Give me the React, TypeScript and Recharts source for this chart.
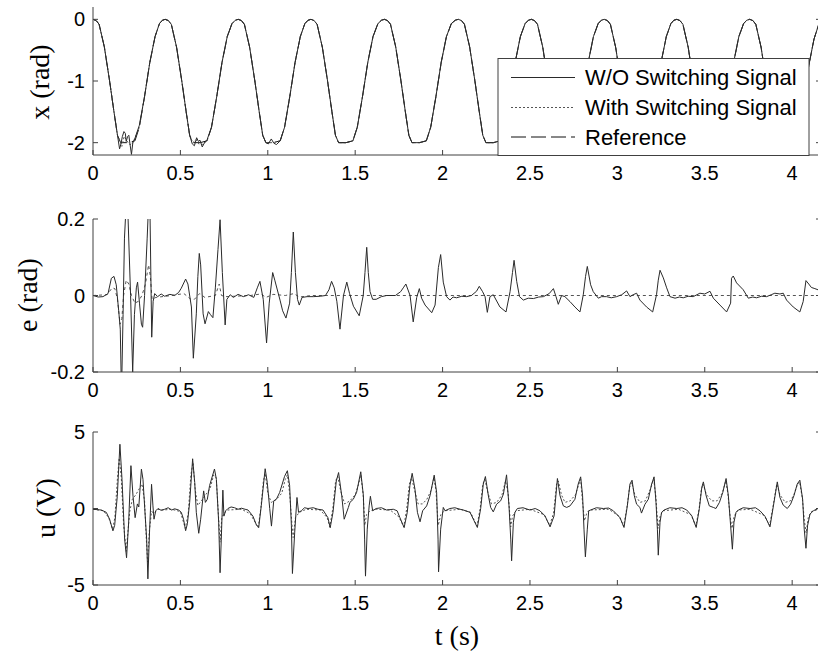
import React from 'react'
import { LineChart, Line, XAxis, YAxis } from 'recharts'

type Pt = [number, number]

const T_MAX = 4.165
const tTicks = [0, 0.5, 1, 1.5, 2, 2.5, 3, 3.5, 4]
const xTicks = [-2, -1, 0]
const eTicks = [-0.2, 0, 0.2]
const uTicks = [-5, 0, 5]
const legendLabels = ['W/O Switching Signal', 'With Switching Signal', 'Reference']

// x(t): reference trajectory (rad)
const xRef: Pt[] = [
  [0, 0], [0.018, -0.02], [0.035, -0.08], [0.065, -0.45], [0.095, -1], [0.12, -1.5], [0.14, -1.88], [0.158, -2], [0.2, -2], [0.24, -1.97], [0.265, -1.75], [0.295, -1.25], [0.325, -0.7], [0.355, -0.28], [0.38, -0.07], [0.397, -0.015],
  [0.413, 0], [0.431, -0.02], [0.448, -0.08], [0.478, -0.45], [0.508, -1], [0.533, -1.5], [0.553, -1.88], [0.571, -2], [0.613, -2], [0.653, -1.97], [0.678, -1.75], [0.708, -1.25], [0.738, -0.7], [0.768, -0.28], [0.795, -0.07], [0.814, -0.015],
  [0.831, 0], [0.849, -0.02], [0.866, -0.08], [0.896, -0.45], [0.926, -1], [0.951, -1.5], [0.971, -1.88], [0.989, -2], [1.031, -2], [1.071, -1.97], [1.096, -1.75], [1.126, -1.25], [1.156, -0.7], [1.186, -0.28], [1.212, -0.07], [1.23, -0.015],
  [1.247, 0], [1.265, -0.02], [1.282, -0.08], [1.312, -0.45], [1.342, -1], [1.367, -1.5], [1.387, -1.88], [1.405, -2], [1.447, -2], [1.487, -1.97], [1.512, -1.75], [1.542, -1.25], [1.572, -0.7], [1.602, -0.28], [1.63, -0.07], [1.65, -0.015],
  [1.667, 0], [1.685, -0.02], [1.702, -0.08], [1.732, -0.45], [1.762, -1], [1.787, -1.5], [1.807, -1.88], [1.825, -2], [1.867, -2], [1.907, -1.97], [1.932, -1.75], [1.962, -1.25], [1.992, -0.7], [2.022, -0.28], [2.05, -0.07], [2.072, -0.015],
  [2.09, 0], [2.108, -0.02], [2.125, -0.08], [2.155, -0.45], [2.185, -1], [2.21, -1.5], [2.23, -1.88], [2.248, -2], [2.29, -2], [2.33, -1.97], [2.355, -1.75], [2.385, -1.25], [2.415, -0.7], [2.445, -0.28], [2.472, -0.07], [2.491, -0.015],
  [2.508, 0], [2.526, -0.02], [2.543, -0.08], [2.573, -0.45], [2.603, -1], [2.628, -1.5], [2.648, -1.88], [2.666, -2], [2.708, -2], [2.748, -1.97], [2.773, -1.75], [2.803, -1.25], [2.833, -0.7], [2.863, -0.28], [2.89, -0.07], [2.908, -0.015],
  [2.925, 0], [2.943, -0.02], [2.96, -0.08], [2.99, -0.45], [3.02, -1], [3.045, -1.5], [3.065, -1.88], [3.083, -2], [3.125, -2], [3.165, -1.97], [3.19, -1.75], [3.22, -1.25], [3.25, -0.7], [3.28, -0.28], [3.306, -0.07], [3.323, -0.015],
  [3.34, 0], [3.358, -0.02], [3.375, -0.08], [3.405, -0.45], [3.435, -1], [3.46, -1.5], [3.48, -1.88], [3.498, -2], [3.54, -2], [3.58, -1.97], [3.605, -1.75], [3.635, -1.25], [3.665, -0.7], [3.695, -0.28], [3.722, -0.07], [3.74, -0.015],
  [3.757, 0], [3.775, -0.02], [3.792, -0.08], [3.822, -0.45], [3.852, -1], [3.877, -1.5], [3.897, -1.88], [3.915, -2], [3.957, -2], [3.997, -1.97], [4.03, -1.8], [4.065, -1.3], [4.095, -0.75], [4.125, -0.32], [4.15, -0.1], [4.165, -0.04],
]

// x(t) without switching signal, first three periods (trough wiggles)
const xWithoutStart: Pt[] = [
  [0, 0], [0.018, -0.02], [0.035, -0.08], [0.065, -0.45], [0.095, -1], [0.12, -1.5], [0.14, -1.88], [0.152, -2.1], [0.16, -2.02], [0.168, -1.9], [0.177, -1.82], [0.185, -1.85], [0.19, -1.98], [0.198, -1.9], [0.205, -1.88], [0.213, -2.05], [0.22, -2.19], [0.228, -2], [0.24, -1.93], [0.265, -1.72], [0.295, -1.25], [0.325, -0.7], [0.355, -0.28], [0.38, -0.07], [0.397, -0.015],
  [0.413, 0], [0.431, -0.02], [0.448, -0.08], [0.478, -0.45], [0.508, -1], [0.533, -1.5], [0.553, -1.88], [0.568, -2.02], [0.58, -2.05], [0.593, -1.92], [0.603, -1.98], [0.612, -1.96], [0.625, -2.07], [0.64, -1.99], [0.653, -1.95], [0.678, -1.75], [0.708, -1.25], [0.738, -0.7], [0.768, -0.28], [0.795, -0.07], [0.814, -0.015],
  [0.831, 0], [0.849, -0.02], [0.866, -0.08], [0.896, -0.45], [0.926, -1], [0.951, -1.5], [0.971, -1.88], [0.989, -2], [1.003, -2.02], [1.02, -1.94], [1.035, -2.01], [1.05, -2.03], [1.071, -1.97],
]

// x(t) with switching signal, first two periods
const xWithStart: Pt[] = [
  [0, 0], [0.018, -0.02], [0.035, -0.08], [0.065, -0.45], [0.095, -1], [0.12, -1.5], [0.14, -1.88], [0.155, -1.97], [0.165, -2.06], [0.178, -1.9], [0.19, -1.95], [0.205, -2.02], [0.22, -2.04], [0.235, -1.96], [0.265, -1.75], [0.295, -1.25], [0.325, -0.7], [0.355, -0.28], [0.38, -0.07], [0.397, -0.015],
  [0.413, 0], [0.431, -0.02], [0.448, -0.08], [0.478, -0.45], [0.508, -1], [0.533, -1.5], [0.553, -1.88], [0.571, -2], [0.59, -1.95], [0.605, -2.02], [0.625, -2.03], [0.653, -1.97],
]

const xWithout: Pt[] = [...xWithoutStart, ...xRef.filter(p => p[0] > 1.09)]
const xWith: Pt[] = [...xWithStart, ...xRef.filter(p => p[0] > 0.67)]

// e(t) tracking error (rad)
const eWithout: Pt[] = [
  [0, 0], [0.03, -0.004], [0.057, -0.003], [0.086, 0.005], [0.105, 0.045], [0.12, 0.05], [0.133, 0.028], [0.147, -0.04], [0.156, -0.088], [0.163, -0.26], [0.172, -0.05], [0.18, 0.15], [0.19, 0.24], [0.2, 0.21], [0.215, 0], [0.227, -0.2], [0.237, -0.05], [0.248, 0.02], [0.255, 0.035], [0.266, -0.02], [0.277, -0.075], [0.284, -0.083], [0.295, 0], [0.31, 0.15], [0.318, 0.24], [0.326, 0.22], [0.336, -0.109], [0.344, -0.015], [0.353, 0.005],
  [0.37, -0.003], [0.39, 0.004], [0.41, -0.002], [0.44, 0.003], [0.467, 0], [0.49, 0.008], [0.505, 0.019], [0.53, 0.043], [0.543, 0.03], [0.563, -0.03], [0.574, -0.164], [0.591, -0.048], [0.6, 0.05], [0.608, 0.11], [0.616, 0.08], [0.63, -0.048], [0.641, -0.074], [0.66, -0.042], [0.672, -0.05], [0.686, -0.058], [0.7, 0.02], [0.715, 0.12], [0.727, 0.198], [0.74, 0.06], [0.756, -0.077], [0.766, -0.01],
  [0.785, 0.002], [0.803, -0.005], [0.83, 0.003], [0.86, -0.003], [0.89, 0.002], [0.92, -0.005], [0.94, 0.02], [0.955, 0.037], [0.974, -0.01], [0.993, -0.124], [1.008, -0.02], [1.028, 0.06], [1.04, 0.04], [1.07, -0.012], [1.085, -0.04], [1.104, -0.059], [1.125, -0.02], [1.135, 0.06], [1.146, 0.166], [1.158, 0.06], [1.17, -0.01], [1.18, -0.025], [1.196, -0.005],
  [1.225, -0.003], [1.26, -0.003], [1.3, -0.002], [1.33, 0], [1.35, 0.015], [1.365, 0.037], [1.38, 0.02], [1.395, -0.015], [1.413, -0.088], [1.433, 0], [1.452, 0.035], [1.468, 0.005], [1.49, -0.028], [1.523, -0.053], [1.546, 0], [1.556, 0.06], [1.566, 0.126], [1.575, 0.06], [1.585, 0.01], [1.6, -0.01], [1.62, -0.01], [1.65, -0.003],
  [1.68, 0], [1.73, 0], [1.76, 0.01], [1.775, 0.02], [1.79, 0.03], [1.814, 0], [1.832, -0.069], [1.852, -0.005], [1.867, 0.018], [1.88, -0.007], [1.9, -0.025], [1.938, -0.045], [1.957, -0.025], [1.976, 0.073], [1.989, 0.107], [2.004, 0.035], [2.023, -0.003], [2.042, -0.012], [2.06, -0.004], [2.08, -0.006], [2.11, -0.002], [2.137, -0.003],
  [2.165, 0], [2.194, 0.011], [2.21, 0.024], [2.229, 0.01], [2.243, -0.003], [2.256, -0.044], [2.271, -0.003], [2.29, 0.002], [2.328, -0.03], [2.363, -0.043], [2.386, 0.01], [2.4, 0.06], [2.409, 0.092], [2.424, 0.037], [2.44, -0.003], [2.462, -0.012], [2.49, -0.007], [2.52, -0.008], [2.55, -0.004], [2.577, -0.003],
  [2.61, 0.005], [2.634, 0.018], [2.649, -0.003], [2.662, -0.023], [2.681, 0], [2.7, -0.003], [2.729, -0.016], [2.757, -0.03], [2.786, -0.043], [2.805, 0.002], [2.818, 0.05], [2.828, 0.076], [2.847, 0.028], [2.862, 0.01], [2.891, -0.007], [2.91, -0.003], [2.938, -0.003], [2.965, -0.006], [2.996, -0.003],
  [3.025, 0.002], [3.053, 0.012], [3.072, -0.003], [3.09, 0.002], [3.11, 0.006], [3.129, -0.012], [3.167, -0.03], [3.202, -0.043], [3.224, 0.002], [3.234, 0.04], [3.244, 0.066], [3.263, 0.046], [3.282, 0.02], [3.301, -0.003], [3.33, -0.007], [3.355, -0.004], [3.377, -0.006], [3.405, -0.002], [3.434, -0.003],
  [3.472, 0.006], [3.5, 0.004], [3.53, 0.011], [3.549, -0.007], [3.587, -0.025], [3.625, -0.043], [3.648, -0.02], [3.653, 0.045], [3.663, 0.051], [3.682, 0.033], [3.72, 0.015], [3.749, -0.007], [3.775, -0.004], [3.796, -0.006], [3.825, -0.002], [3.854, -0.003],
  [3.88, 0.002], [3.901, 0.006], [3.93, 0.004], [3.949, 0.006], [3.968, -0.012], [4.006, -0.03], [4.044, -0.043], [4.063, -0.016], [4.079, 0.039], [4.095, 0.03], [4.11, 0.021], [4.13, 0.018], [4.165, 0.012],
]

const eWith: Pt[] = [
  [0, 0], [0.08, 0.002], [0.11, 0.02], [0.125, 0.018], [0.14, -0.01], [0.155, -0.075], [0.165, -0.06], [0.175, 0], [0.19, 0.04], [0.205, 0.03], [0.22, 0], [0.24, -0.02], [0.26, -0.015], [0.28, 0], [0.3, 0.03], [0.318, 0.08], [0.328, 0.05], [0.338, -0.01], [0.36, -0.005],
  [0.45, 0], [0.52, 0.005], [0.56, -0.01], [0.58, -0.01], [0.61, 0.005], [0.64, -0.005], [0.7, 0], [0.722, 0.03], [0.735, 0], [0.76, -0.003], [0.9, 0], [0.96, 0.004], [0.99, -0.005], [1.03, 0.003], [1.1, 0], [1.15, 0.005], [1.18, -0.004], [1.25, 0], [4.165, 0],
]

// u(t) control voltage (V)
const uWithout: Pt[] = [
  [0, -0.05], [0.048, -0.1], [0.076, -0.25], [0.095, -0.7], [0.114, -1.46], [0.124, -1.1], [0.139, 0.8], [0.154, 4.2], [0.166, 1.9], [0.181, -2], [0.192, -3.22], [0.204, -0.9], [0.217, 2.8], [0.229, 0.8], [0.241, -0.6], [0.254, 0.3], [0.262, 0.1], [0.277, 2.57], [0.286, 1.9], [0.296, 0], [0.307, -2], [0.314, -4.6], [0.324, -1.35], [0.335, 1.58], [0.343, 0.17], [0.349, -0.7], [0.359, -0.15], [0.372, 0],
  [0.39, -0.12], [0.41, -0.05], [0.43, 0.05], [0.45, -0.1], [0.467, -0.02], [0.49, -0.1], [0.505, -0.25], [0.518, -0.7], [0.53, -1.45], [0.54, -1], [0.553, 0.4], [0.57, 3.25], [0.582, 1.7], [0.591, -0.25], [0.605, -1.62], [0.616, -0.7], [0.633, 1.15], [0.643, 0.4], [0.654, 0.6], [0.667, 1.5], [0.695, 2.58], [0.706, 1.9], [0.719, -0.9], [0.727, -4.2], [0.734, -2], [0.743, 1.2], [0.749, -0.5], [0.759, -0.15], [0.772, 0],
  [0.79, 0.1], [0.81, 0.05], [0.83, -0.05], [0.849, 0.02], [0.87, -0.05], [0.887, -0.1], [0.915, -0.5], [0.934, -1.05], [0.948, -1.25], [0.963, 0.2], [0.985, 2.6], [0.997, 1.7], [1.011, 0], [1.021, -1.15], [1.034, 0.5], [1.049, 0.6], [1.068, 1.05], [1.096, 2.1], [1.112, 2.47], [1.125, 1.5], [1.135, -1.1], [1.141, -4.25], [1.154, -1.55], [1.167, 0.72], [1.176, -0.25], [1.192, -0.15],
  [1.21, 0.05], [1.23, 0], [1.26, 0.05], [1.287, -0.05], [1.316, -0.1], [1.344, -0.6], [1.357, -1.26], [1.373, -0.25], [1.392, 1.8], [1.405, 2.35], [1.423, 0.83], [1.437, -0.7], [1.461, 0.07], [1.47, 0.4], [1.489, 0.6], [1.508, 1.05], [1.532, 2.4], [1.547, 0.83], [1.554, -2], [1.559, -4.42], [1.569, -1.35], [1.58, 0.17], [1.587, 0.8], [1.6, -0.15],
  [1.62, 0], [1.65, 0.05], [1.68, -0.1], [1.718, -0.05], [1.74, -0.15], [1.756, -0.6], [1.78, -1.25], [1.798, -0.25], [1.813, 1.5], [1.826, 2.3], [1.842, 1.26], [1.856, -0.25], [1.871, -0.87], [1.886, -0.15], [1.909, 0.17], [1.928, 0.83], [1.952, 2.18], [1.966, 1.05], [1.974, -2], [1.977, -4.14], [1.989, -1.35], [2.004, 0.07], [2.014, -0.15],
  [2.042, 0], [2.07, 0.05], [2.1, -0.05], [2.119, -0.1], [2.157, -0.25], [2.18, -0.8], [2.199, -1.24], [2.218, 0], [2.233, 1.6], [2.245, 2.09], [2.262, 0.83], [2.275, 0.07], [2.29, -0.22], [2.309, 0.28], [2.332, 0.5], [2.348, 0.94], [2.366, 2.2], [2.38, 0.17], [2.39, -2], [2.395, -3.42], [2.405, -0.9], [2.414, -0.25], [2.428, 0],
  [2.46, 0.05], [2.5, -0.1], [2.53, 0], [2.557, -0.15], [2.586, -0.48], [2.615, -1.2], [2.638, -0.48], [2.657, 1.96], [2.672, 0.83], [2.691, 0.17], [2.71, 0.07], [2.729, 0.17], [2.757, 0.6], [2.776, 1.6], [2.79, 2.07], [2.801, 0.83], [2.809, -1.35], [2.817, -3.16], [2.828, -1.35], [2.836, -0.15], [2.847, -0.1],
  [2.88, 0.05], [2.92, 0], [2.95, 0.03], [2.977, -0.15], [3.015, -0.6], [3.038, -1.24], [3.057, 0.17], [3.072, 1.6], [3.084, 1.85], [3.097, 0.83], [3.11, 0.28], [3.129, 0.07], [3.138, -0.3], [3.158, 0.28], [3.177, 0.6], [3.196, 1.6], [3.21, 2.07], [3.221, 0.4], [3.229, -1.35], [3.234, -3.05], [3.244, -0.9], [3.253, -0.25], [3.267, -0.1],
  [3.3, 0.05], [3.34, 0], [3.37, 0.05], [3.397, -0.1], [3.426, -0.48], [3.451, -1.24], [3.469, 0], [3.483, 1.37], [3.492, 1.74], [3.508, 0.83], [3.526, 0.17], [3.549, 0.07], [3.564, 0], [3.584, 0.4], [3.603, 1.05], [3.622, 1.96], [3.635, 0.83], [3.648, -1.13], [3.658, -2.66], [3.667, -0.9], [3.679, -0.25], [3.692, -0.1],
  [3.72, 0.05], [3.759, 0], [3.79, 0.05], [3.816, -0.15], [3.845, -0.52], [3.873, -1.2], [3.896, 0.4], [3.915, 1.74], [3.93, 0.72], [3.949, 0.22], [3.972, 0], [3.991, 0.28], [4.01, 0.83], [4.029, 1.6], [4.044, 1.85], [4.06, 0.6], [4.069, -1.35], [4.079, -2.6], [4.088, -1.13], [4.102, -0.37], [4.121, -0.15], [4.148, 0], [4.165, 0.05],
]

const uWith: Pt[] = [
  [0, -0.05], [0.06, -0.15], [0.09, -0.6], [0.112, -1.35], [0.125, -0.6], [0.14, 2], [0.15, 3.3], [0.162, 2], [0.175, -1], [0.19, -2.8], [0.2, -1.5], [0.21, -0.2], [0.225, 0.6], [0.245, 0.9], [0.265, 1.3], [0.28, 1.6], [0.295, 0.5], [0.305, -2], [0.312, -3.5], [0.322, -1.5], [0.335, -0.2], [0.35, -0.3], [0.37, -0.05],
  [0.4, -0.1], [0.45, -0.05], [0.5, -0.2], [0.528, -1.3], [0.545, -0.3], [0.56, 2.2], [0.572, 3], [0.585, 1.2], [0.6, 0.2], [0.62, 0.5], [0.645, 0.9], [0.67, 1.3], [0.69, 2.2], [0.705, 2], [0.718, -0.5], [0.727, -2.2], [0.737, -0.6], [0.75, -0.3], [0.77, -0.1],
  [0.85, -0.05], [0.9, -0.35], [0.945, -1.25], [0.96, 0], [0.975, 1.8], [0.985, 2.3], [1, 1], [1.02, 0.4], [1.05, 0.6], [1.08, 1], [1.1, 1.9], [1.112, 2.2], [1.125, 1], [1.138, -1], [1.145, -1.9], [1.158, -0.6], [1.18, -0.25], [1.22, -0.05],
  [1.3, -0.1], [1.34, -0.6], [1.355, -1.2], [1.372, 0], [1.388, 1.8], [1.4, 2.1], [1.418, 1.1], [1.44, 0.3], [1.47, 0.5], [1.5, 0.9], [1.52, 1.6], [1.532, 2.2], [1.545, 1], [1.555, -1.1], [1.565, -0.4], [1.585, -0.15], [1.62, -0.05],
  [1.7, -0.1], [1.75, -0.55], [1.778, -1.2], [1.795, 0], [1.81, 1.6], [1.822, 2], [1.84, 1.2], [1.86, 0.3], [1.885, 0.3], [1.91, 0.6], [1.935, 1.2], [1.95, 2], [1.962, 1.2], [1.975, -1.1], [1.99, -0.4], [2.01, -0.15],
  [2.1, -0.05], [2.16, -0.25], [2.197, -1.15], [2.215, 0], [2.23, 1.6], [2.242, 1.9], [2.26, 1], [2.28, 0.3], [2.31, 0.4], [2.34, 0.9], [2.36, 1.8], [2.375, 1], [2.39, -1.2], [2.4, -0.5], [2.42, -0.15],
  [2.5, -0.05], [2.58, -0.4], [2.613, -1.1], [2.635, -0.3], [2.652, 1.6], [2.662, 1.8], [2.68, 0.9], [2.7, 0.4], [2.73, 0.5], [2.76, 0.9], [2.78, 1.6], [2.79, 1.9], [2.8, 0.5], [2.812, -0.8], [2.825, -0.3], [2.84, -0.1],
  [2.95, -0.05], [3.01, -0.5], [3.036, -1.15], [3.055, 0.1], [3.07, 1.4], [3.082, 1.7], [3.1, 0.9], [3.13, 0.4], [3.16, 0.5], [3.19, 1.3], [3.208, 1.9], [3.22, 0.8], [3.232, -1.3], [3.245, -0.5], [3.26, -0.15],
  [3.35, -0.05], [3.42, -0.4], [3.449, -1.15], [3.468, 0], [3.48, 1.2], [3.49, 1.6], [3.51, 0.9], [3.54, 0.5], [3.57, 0.5], [3.6, 1], [3.62, 1.8], [3.632, 1], [3.645, -0.5], [3.656, -1.3], [3.668, -0.5], [3.69, -0.1],
  [3.76, -0.05], [3.84, -0.45], [3.871, -1.1], [3.893, 0.3], [3.912, 1.6], [3.93, 0.9], [3.96, 0.4], [3.99, 0.5], [4.01, 0.9], [4.028, 1.5], [4.042, 1.75], [4.058, 0.7], [4.07, -0.8], [4.08, -1.6], [4.092, -0.6], [4.11, -0.2], [4.165, 0],
]

const FRAME = '#404040'
const SOLID = '#2a2a2a'
const DOTTED = '#555555'
const sansFont = '"Liberation Sans", Arial, sans-serif'
const serifFont = '"Liberation Serif", "Times New Roman", serif'

const toPts = (arr: Pt[]) => arr.map(([t, v]) => ({ t, v }))

function BottomTick({ x, y, payload }: any) {
  return (
    <g>
      <line x1={x} y1={y} x2={x} y2={y - 5} stroke={FRAME} />
      <text x={x} y={y + 24.5} textAnchor="middle" fontFamily={sansFont} fontSize={20} fill="#000">
        {String(payload.value)}
      </text>
    </g>
  )
}

function TopTick({ x, y }: any) {
  return <line x1={x} y1={y} x2={x} y2={y + 5} stroke={FRAME} />
}

function LeftTick({ x, y, payload }: any) {
  return (
    <g>
      <line x1={x} y1={y} x2={x + 5} y2={y} stroke={FRAME} />
      <text x={x - 8} y={y + 7} textAnchor="end" fontFamily={sansFont} fontSize={20} fill="#000">
        {String(payload.value)}
      </text>
    </g>
  )
}

function RightTick({ x, y }: any) {
  return <line x1={x - 5} y1={y} x2={x} y2={y} stroke={FRAME} />
}

interface Series {
  data: Pt[]
  stroke: string
  dash?: string
}

interface PanelProps {
  plotTop: number
  plotH: number
  domain: [number, number]
  yTicks: number[]
  series: Series[]
}

const PAD_TOP = 16

function Panel({ plotTop, plotH, domain, yTicks, series }: PanelProps) {
  return (
    <div style={{ position: 'absolute', left: 0, top: plotTop - PAD_TOP }}>
      <LineChart width={822} height={plotH + PAD_TOP + 40} margin={{ top: PAD_TOP, right: 0, bottom: 0, left: 0 }}>
        <XAxis xAxisId="b" dataKey="t" type="number" domain={[0, T_MAX]} ticks={tTicks} interval={0}
          allowDataOverflow height={40} tickSize={0} tickMargin={0} tickLine={false}
          axisLine={{ stroke: FRAME }} tick={<BottomTick />} />
        <XAxis xAxisId="t" orientation="top" dataKey="t" type="number" domain={[0, T_MAX]} ticks={tTicks} interval={0}
          allowDataOverflow height={0} tickSize={0} tickMargin={0} tickLine={false}
          axisLine={{ stroke: FRAME }} tick={<TopTick />} />
        <YAxis yAxisId="l" type="number" domain={domain} ticks={yTicks} interval={0} allowDataOverflow
          width={93} tickSize={0} tickMargin={0} tickLine={false} axisLine={{ stroke: FRAME }} tick={<LeftTick />} />
        <YAxis yAxisId="r" orientation="right" type="number" domain={domain} ticks={yTicks} interval={0} allowDataOverflow
          width={1} tickSize={0} tickMargin={0} tickLine={false} axisLine={{ stroke: FRAME }} tick={<RightTick />} />
        {series.map((s, i) => (
          <Line key={i} xAxisId="b" yAxisId="l" data={toPts(s.data)} dataKey="v" type="linear"
            stroke={s.stroke} strokeWidth={1} strokeDasharray={s.dash} dot={false} activeDot={false}
            isAnimationActive={false} />
        ))}
      </LineChart>
    </div>
  )
}

export default function App() {
  const legendY = [77.5, 107.5, 137]
  const legendDash = [undefined, '2 2', '15 5']
  const legendColor = [SOLID, DOTTED, '#111']
  return (
    <div style={{ position: 'absolute', left: 0, top: 0, width: 818, height: 652, overflow: 'hidden', background: '#fff' }}>
      <Panel plotTop={7} plotH={148} domain={[-2.2, 0.2]} yTicks={xTicks}
        series={[
          { data: xRef, stroke: '#111', dash: '15 5' },
          { data: xWith, stroke: DOTTED, dash: '2 2' },
          { data: xWithout, stroke: SOLID },
        ]} />
      <Panel plotTop={219} plotH={153} domain={[-0.2, 0.2]} yTicks={eTicks}
        series={[
          { data: eWith, stroke: DOTTED, dash: '3 3' },
          { data: eWithout, stroke: SOLID },
        ]} />
      <Panel plotTop={432} plotH={153} domain={[-5, 5]} yTicks={uTicks}
        series={[
          { data: uWith, stroke: DOTTED, dash: '2 2' },
          { data: uWithout, stroke: SOLID },
        ]} />
      <svg width={818} height={652} style={{ position: 'absolute', left: 0, top: 0, pointerEvents: 'none' }}>
        <rect x={498} y={58.5} width={311} height={97} fill="#fff" stroke={FRAME} />
        {legendLabels.map((label, i) => (
          <g key={label}>
            <line x1={511} x2={575} y1={legendY[i]} y2={legendY[i]} stroke={legendColor[i]} strokeDasharray={legendDash[i]} />
            <text x={585} y={legendY[i] + 7.5} fontFamily={sansFont} fontSize={22} fill="#000">{label}</text>
          </g>
        ))}
        <text transform="translate(39,82) rotate(-90)" textAnchor="middle" dominantBaseline="central"
          fontFamily={serifFont} fontSize={28} fill="#000">x (rad)</text>
        <text transform="translate(27,295) rotate(-90)" textAnchor="middle" dominantBaseline="central"
          fontFamily={serifFont} fontSize={28} fill="#000">e (rad)</text>
        <text transform="translate(45,508) rotate(-90)" textAnchor="middle" dominantBaseline="central"
          fontFamily={serifFont} fontSize={28} fill="#000">u (V)</text>
        <text x={457} y={635} textAnchor="middle" dominantBaseline="central"
          fontFamily={serifFont} fontSize={28} fill="#000">t (s)</text>
      </svg>
    </div>
  )
}
